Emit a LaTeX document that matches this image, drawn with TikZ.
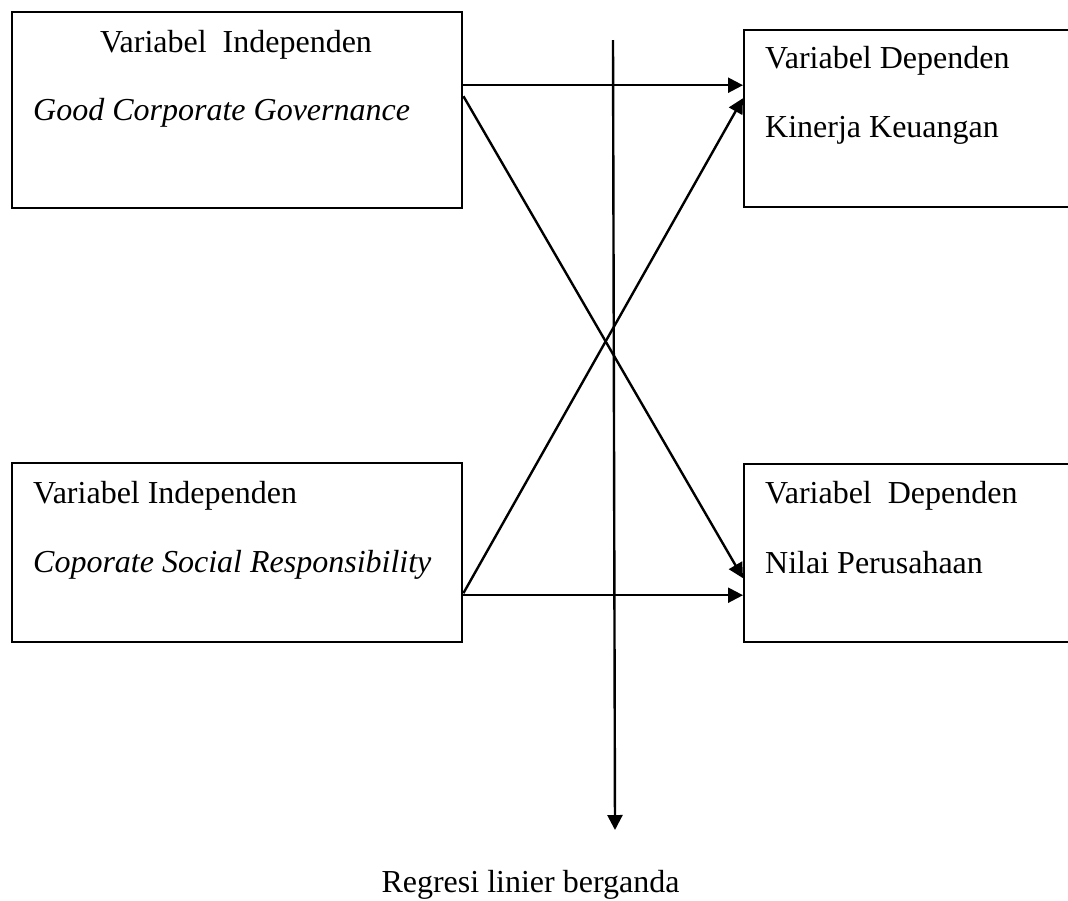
\documentclass[tikz,border=0pt]{standalone}
\usepackage{fontspec}
\setmainfont{Liberation Serif}
\usetikzlibrary{arrows.meta}
\begin{document}
\begin{tikzpicture}[x=1pt,y=-1pt,
  box/.style={draw=black,line width=2.4pt,rectangle,inner sep=0pt,anchor=north west},
  lbl/.style={anchor=base west,inner sep=0pt,font=\fontsize{32}{38}\selectfont},
  conn/.style={line width=2.4pt,-{Triangle[length=15pt,width=15pt]}}]
\useasboundingbox (0,0) rectangle (1068,900);
\fill[white] (0,0) rectangle (1068,900);
% boxes
\node[box,minimum width=450pt,minimum height=195.5pt] (b1) at (11,11) {};
\node[box,minimum width=340pt,minimum height=177pt] (b2) at (743,29) {};
\node[box,minimum width=450pt,minimum height=179pt] (b3) at (11,462) {};
\node[box,minimum width=340pt,minimum height=178pt] (b4) at (743,463) {};
% texts
\node[lbl,anchor=base] (t1a) at (236,52) {Variabel\ \ Independen};
\node[lbl] (t1b) at (33,120) {\itshape Good Corporate Governance};
\node[lbl] (t2a) at (765,68) {Variabel Dependen};
\node[lbl] (t2b) at (765,137) {Kinerja Keuangan};
\node[lbl] (t3a) at (33,503) {Variabel Independen};
\node[lbl] (t3b) at (33,572) {\itshape Coporate Social Responsibility};
\node[lbl] (t4a) at (765,503) {Variabel\ \ Dependen};
\node[lbl] (t4b) at (765,573) {Nilai Perusahaan};
% connectors
\draw[conn] ([yshift=24.75pt]b1.east) -- ([yshift=33.5pt]b2.west);
\draw[conn] ([yshift=13.75pt]b1.east) -- ([yshift=-25pt]b4.west);
\draw[conn] ([yshift=-40.5pt]b3.east) -- ([yshift=20.5pt]b2.west);
\draw[conn] ([yshift=-42.5pt]b3.east) -- ([yshift=-42pt]b4.west);
% regression axis
\coordinate (vtop) at (613,40);
\coordinate (vbot) at (615,830);
\draw[conn] (vtop) -- (vbot);
\node[lbl,anchor=base] (reg) at (530.5,892) {Regresi linier berganda};
\end{tikzpicture}
\end{document}
